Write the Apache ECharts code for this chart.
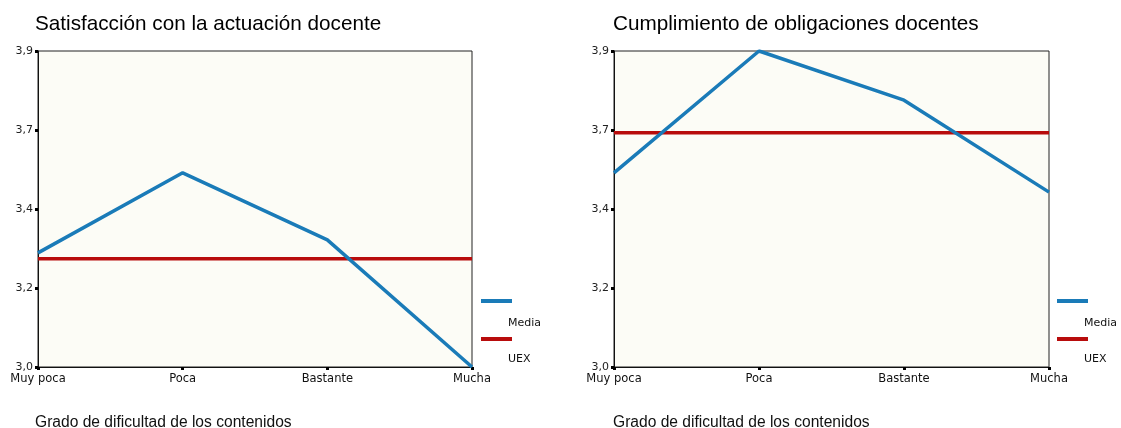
<!DOCTYPE html>
<html>
<head>
<meta charset="utf-8">
<script src="https://cdn.jsdelivr.net/npm/echarts@6/dist/echarts.min.js"></script>
<style>html,body{margin:0;padding:0;background:#fff}#c{width:1121px;height:428px}</style>
</head>
<body>
<div id="c"></div>
<script>
var categories = ['Muy poca', 'Poca', 'Bastante', 'Mucha'];
var yTickLabels = ['3,0', '3,2', '3,4', '3,7', '3,9'];
var mediaSatisfaccion = [3.325, 3.553, 3.362, 3.0];
var uexSatisfaccion = [3.308, 3.308, 3.308, 3.308];
var mediaCumplimiento = [3.553, 3.9, 3.76, 3.498];
var uexCumplimiento = [3.667, 3.667, 3.667, 3.667];
var titles = ['Satisfacción con la actuación docente', 'Cumplimiento de obligaciones docentes'];
var xName = 'Grado de dificultad de los contenidos';
var legendNames = ['Media', 'UEX'];

var BLUE = '#1a7bb8', RED = '#b80c0c';
var FONT = 'Liberation Sans, Arial, sans-serif';
var SMALL = 'DejaVu Sans, sans-serif';

function xAxis(gi) {
  return {
    type: 'category', gridIndex: gi, data: categories, boundaryGap: false,
    axisLine: {lineStyle: {color: '#111', width: 1}},
    axisTick: {show: true, length: 3, lineStyle: {color: '#000', width: 3}},
    axisLabel: {color: '#111', fontSize: 11.5, fontFamily: SMALL, margin: 6, interval: 0}
  };
}
function yAxis(gi) {
  return {
    type: 'value', gridIndex: gi, min: 3.0, max: 3.9, interval: 0.225,
    axisLine: {show: true, lineStyle: {color: '#111', width: 1}},
    axisTick: {show: true, length: 3, lineStyle: {color: '#000', width: 3}},
    splitLine: {show: false},
    axisLabel: {color: '#222', fontSize: 11, fontFamily: SMALL, margin: 5,
      formatter: function (v, i) { return yTickLabels[i]; }}
  };
}
function line(gi, data, color, name) {
  return {
    type: 'line', name: name, xAxisIndex: gi, yAxisIndex: gi, data: data,
    symbol: 'none', lineStyle: {color: color, width: 3.5}, z: name === 'Media' ? 3 : 2,
    animation: false
  };
}
function legendGraphics(x) {
  return [
    {type: 'line', shape: {x1: x, y1: 301, x2: x + 31, y2: 301}, style: {stroke: BLUE, lineWidth: 4}},
    {type: 'text', x: x + 27, y: 323, style: {text: legendNames[0], fill: '#111', font: '11px ' + SMALL, textVerticalAlign: 'middle'}},
    {type: 'line', shape: {x1: x, y1: 339, x2: x + 31, y2: 339}, style: {stroke: RED, lineWidth: 4}},
    {type: 'text', x: x + 27, y: 359, style: {text: legendNames[1], fill: '#111', font: '11px ' + SMALL, textVerticalAlign: 'middle'}}
  ];
}

var chart = echarts.init(document.getElementById('c'));
chart.setOption({
  animation: false,
  backgroundColor: '#fff',
  title: [
    {text: titles[0], left: 30, top: 9, textStyle: {fontSize: 20.7, fontWeight: 'normal', color: '#000', fontFamily: FONT}},
    {text: titles[1], left: 608, top: 9, textStyle: {fontSize: 20.7, fontWeight: 'normal', color: '#000', fontFamily: FONT}},
    {text: xName, left: 30, top: 410, textStyle: {fontSize: 15.6, fontWeight: 'normal', color: '#111', fontFamily: FONT}},
    {text: xName, left: 608, top: 410, textStyle: {fontSize: 15.6, fontWeight: 'normal', color: '#111', fontFamily: FONT}}
  ],
  grid: [
    {left: 38, top: 51, width: 434, height: 316, show: true, backgroundColor: '#fcfcf6', borderColor: '#222', borderWidth: 1},
    {left: 614, top: 51, width: 435, height: 316, show: true, backgroundColor: '#fcfcf6', borderColor: '#222', borderWidth: 1}
  ],
  xAxis: [xAxis(0), xAxis(1)],
  yAxis: [yAxis(0), yAxis(1)],
  series: [
    line(0, uexSatisfaccion, RED, 'UEX'),
    line(0, mediaSatisfaccion, BLUE, 'Media'),
    line(1, uexCumplimiento, RED, 'UEX'),
    line(1, mediaCumplimiento, BLUE, 'Media')
  ],
  graphic: legendGraphics(481).concat(legendGraphics(1057))
});
</script>
</body>
</html>
